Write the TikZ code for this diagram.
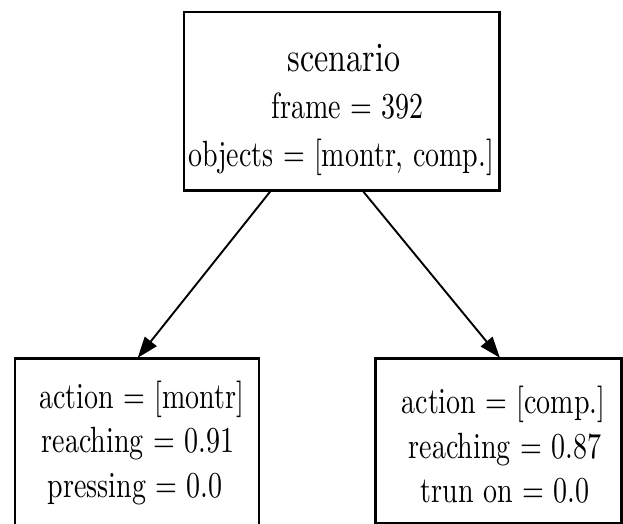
\documentclass[tikz,border=0pt]{standalone}
\usetikzlibrary{arrows.meta}
% text is set in 10pt Latin Modern and stretched to the size of the boxes
\newcommand{\bigtxt}[1]{\scalebox{3.2}[4.15]{#1}}
\newcommand{\plaintxt}[1]{\scalebox{2.8}[3.65]{#1}}
\begin{document}
\begin{tikzpicture}[x=1pt,y=-1pt,
  box/.style={draw=black, line width=2.5pt, inner sep=0pt, anchor=north west},
  lbl/.style={anchor=base, inner sep=0pt},
  link/.style={line width=1.9pt, -{Triangle[length=21pt,width=15pt]}, shorten >=-1pt}]
\useasboundingbox (0,0) rectangle (623,524);
% frames of the three records
\node[box, minimum width=315.6pt, minimum height=178pt] (top) at (182.7,11) {};
\node[box, minimum width=244.2pt, minimum height=172pt] (left) at (13.5,357) {};
\node[box, minimum width=246pt, minimum height=165pt] (right) at (374,357) {};
% parent record
\node[lbl] (t1) at (344,72) {\bigtxt{scenario}};
\node[lbl] (t2) at (347.5,118) {\plaintxt{frame = 392}};
\node[lbl] (t3) at (341,166) {\plaintxt{objects = [montr, comp.]}};
% left child
\node[lbl] (l1) at (141.5,408) {\plaintxt{action = [montr]}};
\node[lbl] (l2) at (138,452) {\plaintxt{reaching = 0.91}};
\node[lbl] (l3) at (135,497) {\plaintxt{pressing = 0.0}};
% right child
\node[lbl] (r1) at (503.5,413) {\plaintxt{action = [comp.]}};
\node[lbl] (r2) at (505,458) {\plaintxt{reaching = 0.87}};
\node[lbl] (r3) at (505,502) {\plaintxt{trun on = 0.0}};
% edges
\draw[link] ([xshift=-71.5pt]top.south) -- ([xshift=1.5pt]left.north);
\draw[link] ([xshift=21.5pt]top.south) -- ([xshift=1pt]right.north);
\end{tikzpicture}
\end{document}
